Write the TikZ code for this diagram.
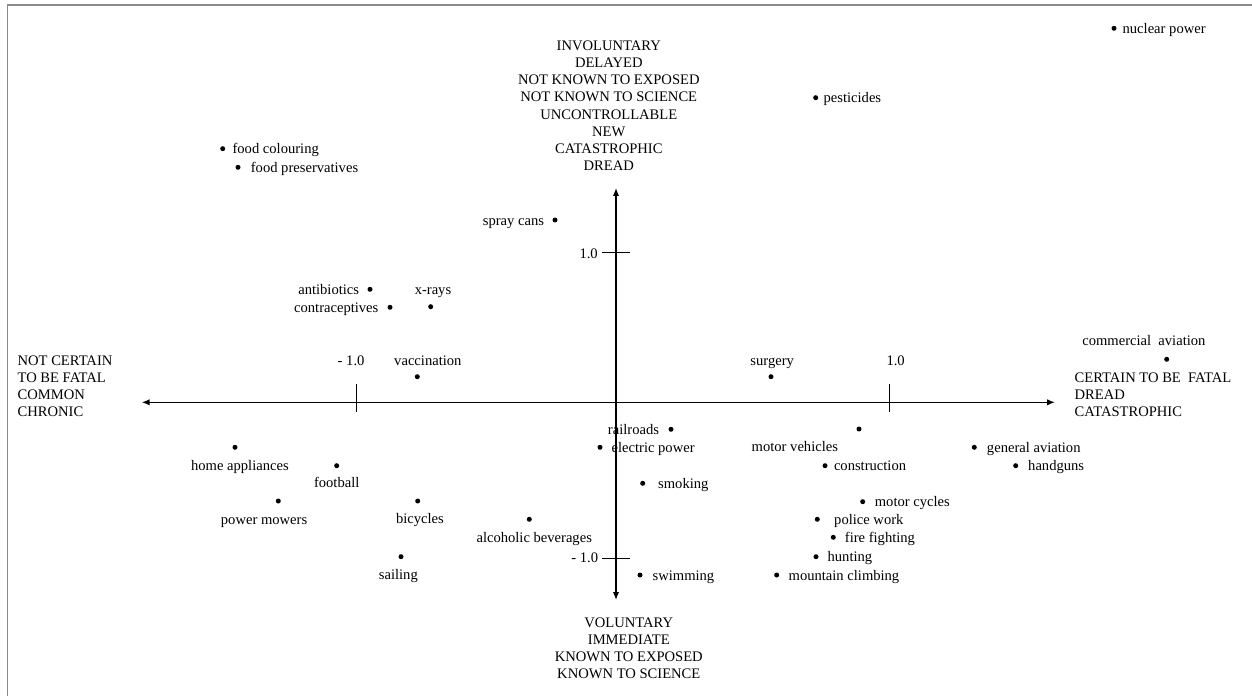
\documentclass[tikz,border=0pt]{standalone}
\usepackage{fontspec}
\setmainfont{Liberation Serif}
\usetikzlibrary{arrows.meta, positioning}
\definecolor{framegray}{HTML}{8A8A8A}

\begin{document}
\begin{tikzpicture}[x=0.02cm, y=-0.02cm,
    font=\fontsize{8.3}{9.7}\selectfont,
    dot/.style={circle, fill=black, inner sep=0pt, minimum size=0.1cm},
    lbl/.style={inner sep=0pt, text height=6.6pt, text depth=0.8pt},
    pole/.style={inner sep=0pt, align=center},
    axis/.style={line width=0.75pt, {Latex[length=4.5pt,width=3.6pt]}-{Latex[length=4.5pt,width=3.6pt]}},
    tickmark/.style={line width=0.6pt}]
    \useasboundingbox (0,0) rectangle (1252,696);
    % page frame
    \draw[framegray, line width=0.85pt] (7.3,696) -- (7.3,5) -- (1252,5);

    % axes
    \coordinate (west) at (141.7,402.3);
    \coordinate (east) at (1055,402.3);
    \coordinate (north) at (616,188);
    \coordinate (south) at (616,600);
    \draw[axis] (west) -- (east);
    \draw[axis] (north) -- (south);

    % ticks
    \coordinate (xlo1) at (356.7,384.3);  \coordinate (xlo2) at (356.7,412.3);
    \coordinate (xhi1) at (889.3,384.3);  \coordinate (xhi2) at (889.3,412.3);
    \coordinate (yhi1) at (602.3,252.3);  \coordinate (yhi2) at (630,252.3);
    \coordinate (ylo1) at (602.3,558.3);  \coordinate (ylo2) at (630,558.3);
    \draw[tickmark] (xlo1) -- (xlo2);
    \draw[tickmark] (xhi1) -- (xhi2);
    \draw[tickmark] (yhi1) -- (yhi2);
    \draw[tickmark] (ylo1) -- (ylo2);
    \node[lbl, above=9.5pt of xlo1, xshift=-3.2pt] (xlo-l) {- 1.0};
    \node[lbl, above=9.5pt of xhi1, xshift=3.6pt] (xhi-l) {1.0};
    \node[lbl, left=2.4pt of yhi1, yshift=-0.6pt] (yhi-l) {1.0};
    \node[lbl, left=2.2pt of ylo1, yshift=0.3pt] (ylo-l) {- 1.0};

    % pole labels
    \node[pole] (invol) at (608.8,105.7) {INVOLUNTARY\\DELAYED\\NOT KNOWN TO EXPOSED\\NOT KNOWN TO SCIENCE\\UNCONTROLLABLE\\NEW\\CATASTROPHIC\\DREAD};
    \node[pole] (volun) at (628.8,648) {VOLUNTARY\\IMMEDIATE\\KNOWN TO EXPOSED\\KNOWN TO SCIENCE};
    \node[pole, align=left, anchor=west] (notcert) at (17.3,386.5) {NOT CERTAIN\\TO BE FATAL\\COMMON\\CHRONIC};
    \node[pole, align=left, anchor=west] (cert) at (1074.3,394.8) {CERTAIN TO BE\ \ FATAL\\DREAD\\CATASTROPHIC};

    % hazards, label to the right
    \foreach \nm/\x/\y/\g/\txt in {nuc/1114/28.3/3.1pt/nuclear power, pest/815.7/97.7/2.7pt/pesticides,
        fcol/222.7/148.7/3.8pt/food colouring, fpres/238/167.3/5.5pt/food preservatives,
        elec/600/447.3/4.8pt/electric power, cons/825/465.7/3.3pt/construction,
        gav/974.3/447.3/5.4pt/general aviation, hgun/1015.7/465.7/5.3pt/handguns,
        smok/642.7/483.3/7pt/smoking, swim/640/575/5.4pt/swimming,
        mcyc/862.7/501.7/5.1pt/motor cycles, police/817.3/519.3/7.8pt/police work,
        fire/833.3/537.3/4.8pt/fire fighting, hunt/816/556.7/4.8pt/hunting,
        mtn/776.7/575/5pt/mountain climbing} {
        \node[dot] (\nm) at (\x,\y) {};
        \node[lbl, right=\g of \nm] (\nm-l) {\txt};
    }
    % label to the left
    \foreach \nm/\x/\y/\g/\txt in {spray/555/220/4.4pt/spray cans, anti/370/289.3/4.4pt/antibiotics,
        contra/390/307.3/4.8pt/contraceptives, rail/671/429.3/5pt/railroads} {
        \node[dot] (\nm) at (\x,\y) {};
        \node[lbl, left=\g of \nm] (\nm-l) {\txt};
    }
    % label above
    \foreach \nm/\x/\y/\g/\dx/\txt in {xray/430.7/306.7/4.3pt/1.3pt/x-rays, vacc/417.3/376.7/3.9pt/6pt/vaccination,
        surg/771/376.7/3.9pt/0.7pt/surgery, comm/1166.7/359.3/5.4pt/-13pt/commercial\ \ aviation} {
        \node[dot] (\nm) at (\x,\y) {};
        \node[lbl, above=\g of \nm, xshift=\dx] (\nm-l) {\txt};
    }
    % label below
    \foreach \nm/\x/\y/\g/\dx/\txt in {home/235/447.3/4.7pt/2.8pt/home appliances, foot/336.7/465.7/4.2pt/0pt/football,
        mow/278.3/501/5pt/-8.1pt/power mowers, bike/417.7/501/4.4pt/1.3pt/bicycles,
        sail/401/556.7/4.6pt/-1.5pt/sailing, alco/529.3/519.3/4.7pt/2.8pt/alcoholic beverages,
        mveh/859/429/4.6pt/-36.5pt/motor vehicles} {
        \node[dot] (\nm) at (\x,\y) {};
        \node[lbl, below=\g of \nm, xshift=\dx] (\nm-l) {\txt};
    }
\end{tikzpicture}
\end{document}
